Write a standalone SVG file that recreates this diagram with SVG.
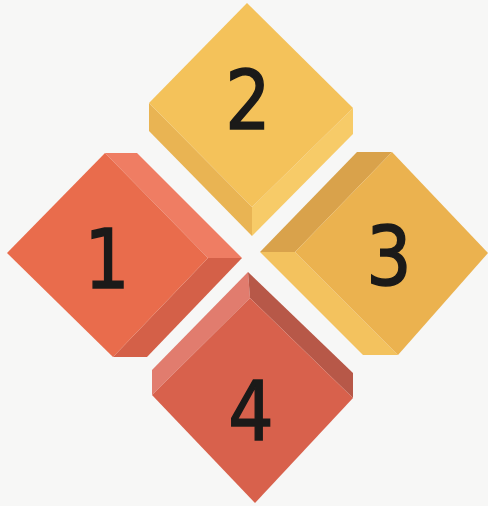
<svg xmlns="http://www.w3.org/2000/svg" width="488" height="506" viewBox="0 0 488 506">
<style>
.num{font-family:"DejaVu Sans",sans-serif;font-size:82px;fill:#1b1a19;stroke:#1b1a19;stroke-width:1.6px;text-anchor:middle}
</style>
<rect width="488" height="506" fill="#f7f7f6"/>
<g id="node2">
<polygon points="149,103 252,207 252,236 149,131" fill="#e9b453"/>
<polygon points="252,207 353,108 353,134 252,236" fill="#f7cb68"/>
<polygon points="247,3 353,108 252,207 149,103" fill="#f4c25a"/>
<text class="num" transform="translate(248,129) scale(0.87,1)">2</text>
</g>
<g id="node1">
<polygon points="105,153 137,153 242,258 208,258" fill="#ef7d63"/>
<polygon points="208,258 242,258 147,357 113,357" fill="#d46048"/>
<polygon points="7,253 105,153 208,258 113,357" fill="#e96c4c"/>
<text class="num" transform="translate(107,288) scale(0.87,1)">1</text>
</g>
<g id="node3">
<polygon points="357,152 392,152 295,252 260,252" fill="#d9a24b"/>
<polygon points="260,252 295,252 398,355 363,355" fill="#f3c25e"/>
<polygon points="392,152 488,253 398,355 295,252" fill="#ebb24f"/>
<text class="num" transform="translate(389,285) scale(0.87,1)">3</text>
</g>
<g id="node4">
<polygon points="248,272 152,370 152,395 250,298" fill="#e17c6e"/>
<polygon points="248,272 353,373 353,398 250,298" fill="#b75848"/>
<polygon points="250,298 353,398 255,503 152,395" fill="#d8614c"/>
<text class="num" transform="translate(251,440) scale(0.87,1)">4</text>
</g>
<g id="connectors"/>
</svg>
